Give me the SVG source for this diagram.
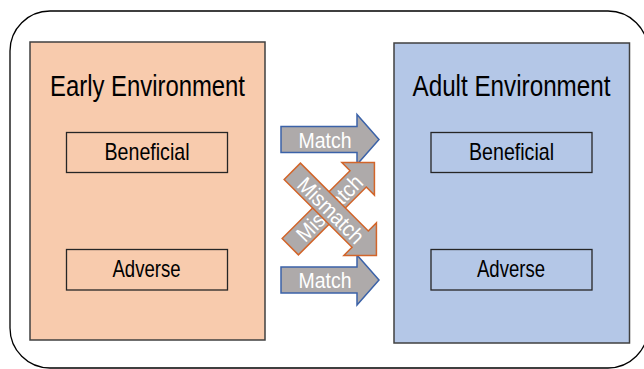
<svg xmlns="http://www.w3.org/2000/svg" width="644" height="369" viewBox="0 0 644 369">
  <defs>
    <style>
      text { font-family: 'Liberation Sans', Arial, sans-serif; text-anchor: middle; }
      .frame { fill: #ffffff; stroke: #000000; stroke-width: 1.3; }
      .early { fill: #F8CBAD; stroke: #404040; stroke-width: 1.5; }
      .adult { fill: #B4C7E7; stroke: #404040; stroke-width: 1.5; }
      .inner { fill: none; stroke: #262626; stroke-width: 1.3; }
      .title { font-size: 30px; fill: #000000; }
      .label { font-size: 24px; fill: #000000; }
      .match { fill: #AEAAAA; stroke: #3B62A8; stroke-width: 1.5; stroke-linejoin: miter; }
      .mismatch { fill: #AEAAAA; stroke: #D2652A; stroke-width: 1.5; stroke-linejoin: miter; }
      .arrowtext { font-size: 22px; fill: #ffffff; }
    </style>
    <path id="matchShape" d="M0,-13 H76 V-25 L98,0 L76,25 V13 H0 Z"/>
    <path id="mismatchShape" d="M-59,-11.5 H37 V-23 L60,0 L37,23 V11.5 H-59 Z"/>
  </defs>

  <g id="frame">
    <rect class="frame" x="10" y="11" width="638" height="357" rx="40" ry="40"/>
  </g>

  <g id="early-environment">
    <rect class="early" x="30" y="42" width="235" height="298"/>
    <text class="title" x="147.5" y="96" textLength="195" lengthAdjust="spacingAndGlyphs">Early Environment</text>
  </g>
  <g id="early-beneficial">
    <rect class="inner" x="66.5" y="132.5" width="161" height="40"/>
    <text class="label" x="147" y="160" textLength="85" lengthAdjust="spacingAndGlyphs">Beneficial</text>
  </g>
  <g id="early-adverse">
    <rect class="inner" x="66.5" y="249.5" width="161" height="40.5"/>
    <text class="label" x="146.5" y="277" textLength="68" lengthAdjust="spacingAndGlyphs">Adverse</text>
  </g>

  <g id="adult-environment">
    <rect class="adult" x="394" y="43" width="235.5" height="300"/>
    <text class="title" x="511.5" y="96" textLength="198" lengthAdjust="spacingAndGlyphs">Adult Environment</text>
  </g>
  <g id="adult-beneficial">
    <rect class="inner" x="431" y="132.5" width="161" height="40"/>
    <text class="label" x="511.5" y="160" textLength="85" lengthAdjust="spacingAndGlyphs">Beneficial</text>
  </g>
  <g id="adult-adverse">
    <rect class="inner" x="431" y="249.5" width="161" height="40.5"/>
    <text class="label" x="511" y="277" textLength="68" lengthAdjust="spacingAndGlyphs">Adverse</text>
  </g>

  <g id="connectors">
    <g id="match-beneficial" transform="translate(281,139.5)">
      <use href="#matchShape" class="match"/>
      <text class="arrowtext" x="44" y="8" textLength="53" lengthAdjust="spacingAndGlyphs">Match</text>
    </g>
    <g id="match-adverse" transform="translate(281,280)">
      <use href="#matchShape" class="match"/>
      <text class="arrowtext" x="44" y="8" textLength="53" lengthAdjust="spacingAndGlyphs">Match</text>
    </g>
    <g id="mismatch-adverse-to-beneficial" transform="translate(332,205) rotate(-45)">
      <use href="#mismatchShape" class="mismatch"/>
      <text class="arrowtext" x="-4" y="8" textLength="84" lengthAdjust="spacingAndGlyphs">Mismatch</text>
    </g>
    <g id="mismatch-beneficial-to-adverse" transform="translate(334,213) rotate(45)">
      <use href="#mismatchShape" class="mismatch"/>
      <text class="arrowtext" x="-4" y="8" textLength="84" lengthAdjust="spacingAndGlyphs">Mismatch</text>
    </g>
  </g>
</svg>
